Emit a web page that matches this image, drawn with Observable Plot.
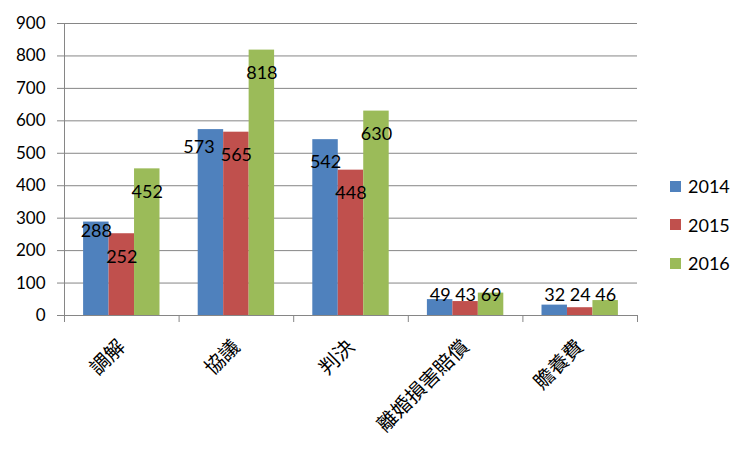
<!DOCTYPE html>
<html><head><meta charset="utf-8">
<script src="https://cdn.jsdelivr.net/npm/d3@7"></script>
<script src="https://cdn.jsdelivr.net/npm/@observablehq/plot@0.6"></script>
<style>
body{margin:0;background:#fff;}
#wrap{position:relative;width:750px;height:450px;}
#legend{position:absolute;left:670px;top:167px;font-family:Lato,sans-serif;font-size:18px;color:#000;}
.item{display:flex;align-items:center;height:38.5px;}
.sw{width:11px;height:11px;margin-right:7px;}
</style></head><body><div id="wrap"></div>
<script>
const categories = ["調解", "協議", "判決", "離婚損害賠償", "贍養費"];
const years = ["2014", "2015", "2016"];
const values2014 = [288, 573, 542, 49, 32];
const values2015 = [252, 565, 448, 43, 24];
const values2016 = [452, 818, 630, 69, 46];
const colors = ["#4F81BD", "#C0504D", "#9BBB59"];
const yTicks = [0, 100, 200, 300, 400, 500, 600, 700, 800, 900];

const series = [values2014, values2015, values2016];
const rows = [];
series.forEach((vals, si) => vals.forEach((v, ci) => {
  const x1 = ci + 1/6 + si * 2/9;
  rows.push({cat: categories[ci], year: years[si], value: v, x1, x2: x1 + 2/9, xm: x1 + 1/9, si, ci});
}));

const big = rows.filter(d => d.value >= 100);
const small = rows.filter(d => d.value < 100);
const isRaised = d => d.si === 0 && d.ci === 0;
const isShifted = d => d.si === 0 && d.ci === 1;
const bigNormal = big.filter(d => !isRaised(d) && !isShifted(d));

const chart = Plot.plot({
  width: 750, height: 450,
  marginLeft: 64, marginRight: 113, marginTop: 23, marginBottom: 135,
  style: {fontFamily: "Lato, sans-serif", fontSize: "17px", color: "#000", background: "#fff"},
  x: {type: "linear", domain: [0, 5], axis: null},
  y: {domain: [0, 900], axis: null},
  color: {domain: years, range: colors},
  marks: [
    Plot.ruleY(yTicks, {stroke: "#868686", strokeOpacity: 1}),
    Plot.rectY(rows, {x1: "x1", x2: "x2", y: "value", fill: "year"}),
    Plot.ruleX([0], {stroke: "#868686"}),
    Plot.ruleY([0], {stroke: "#868686"}),
    Plot.axisY(yTicks, {tickSize: 7, tickPadding: 12, stroke: "#868686", fontSize: 17, label: null}),
    Plot.axisX(d3.range(6), {tickSize: 7, tickFormat: () => "", stroke: "#868686", label: null}),
    Plot.axisX(d3.range(5).map(i => i + 0.5), {
      tickSize: 0, tickPadding: 28, tickRotate: -45, dx: 0,
      tickFormat: d => categories[Math.floor(d)], label: null,
      fontFamily: "'Noto Sans CJK TC', sans-serif", fontSize: 20
    }),
    Plot.text(bigNormal, {x: "xm", y: "value", text: d => String(d.value), dy: 23, fontSize: 18, fill: "#000"}),
    Plot.text(big.filter(isRaised), {x: "xm", y: "value", text: d => String(d.value), dy: 9, fontSize: 18, fill: "#000"}),
    Plot.text(big.filter(isShifted), {x: "xm", y: "value", text: d => String(d.value), dy: 18, dx: -12, fontSize: 18, fill: "#000"}),
    Plot.text(small, {x: "xm", y: 0, text: d => String(d.value), dy: -20, fontSize: 18, fill: "#000"})
  ]
});

const wrap = document.getElementById("wrap");
wrap.appendChild(chart);
const legend = document.createElement("div");
legend.id = "legend";
years.forEach((y, i) => {
  const item = document.createElement("div");
  item.className = "item";
  const sw = document.createElement("span");
  sw.className = "sw";
  sw.style.background = colors[i];
  const t = document.createElement("span");
  t.textContent = y;
  item.appendChild(sw); item.appendChild(t);
  legend.appendChild(item);
});
wrap.appendChild(legend);
</script>
</body></html>
